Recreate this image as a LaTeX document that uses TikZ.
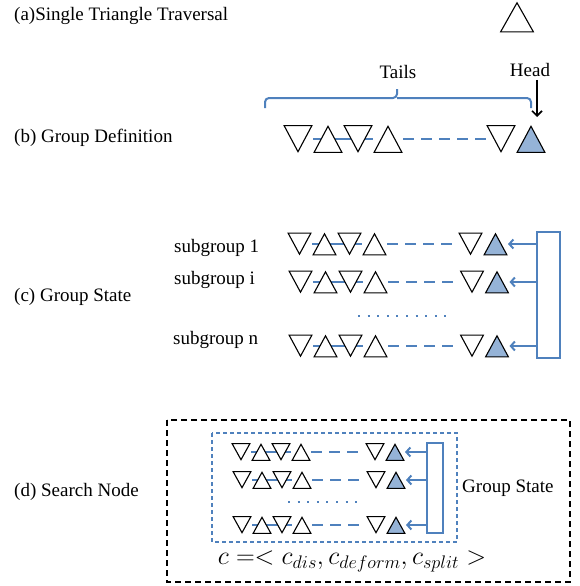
\RequirePackage{fix-cm}
\documentclass[tikz,border=0pt]{standalone}
\usepackage{fontspec}
\setmainfont{Liberation Serif}
\usetikzlibrary{arrows.meta}
\usetikzlibrary{positioning, backgrounds}

\definecolor{gsblue}{RGB}{79,129,189}
\definecolor{headblue}{RGB}{149,179,215}

\tikzset{
  lbl/.style={font=\fontsize{19}{22}\selectfont, inner sep=0pt},
  triline/.style={draw=black, line width=1.1pt, line join=miter},
  tri/.style={inner sep=0pt, outer sep=0pt},
  trup/.style={tri, path picture={\filldraw[triline, fill=#1]
      ([shift={(1.1pt,.6pt)}]path picture bounding box.south west) --
      ([shift={(-1.1pt,.6pt)}]path picture bounding box.south east) --
      ([yshift=-1.3pt]path picture bounding box.north) -- cycle;}},
  trup/.default=white,
  trdn/.style={tri, path picture={\filldraw[triline, fill=#1]
      ([shift={(1.1pt,-.6pt)}]path picture bounding box.north west) --
      ([shift={(-1.1pt,-.6pt)}]path picture bounding box.north east) --
      ([yshift=1.3pt]path picture bounding box.south) -- cycle;}},
  trdn/.default=white,
  big/.style={minimum width=30pt, minimum height=28pt},
  med/.style={minimum width=25pt, minimum height=23pt},
  small/.style={minimum width=20pt, minimum height=18pt},
  link/.style={draw=gsblue, line width=2pt},
  gap/.style={dash pattern=on 11pt off 7pt},
  gsbox/.style={draw=gsblue, line width=2pt, inner sep=0pt},
  feed/.style={link, -{Straight Barb[length=4pt,width=9pt]}},
}

% one subgroup: name, size, x of first tail, y, x of last tail
\newcommand{\grouprow}[5]{%
  \node[trdn,#2] (#1-1) at (#3,#4) {};
  \node[trup,#2,right=0pt of #1-1] (#1-2) {};
  \node[trdn,#2,right=0pt of #1-2] (#1-3) {};
  \node[trup,#2,right=0pt of #1-3] (#1-4) {};
  \node[trdn,#2] (#1-5) at (#5,#4) {};
  \node[trup=headblue,#2,right=0pt of #1-5] (#1-6) {};
  \begin{scope}[on background layer]
    \draw[link] (#1-1) -- (#1-4);
    \draw[link,gap] (#1-4) -- (#1-5);
    \draw[link] (#1-5) -- (#1-6);
  \end{scope}}

\begin{document}
\begin{tikzpicture}[x=1pt,y=-1pt]
\useasboundingbox (0,0) rectangle (579,586);
%% (a)
\node[lbl,anchor=west] (la) at (14,16) {(a)Single Triangle Traversal};
\node[trup,minimum width=35pt,minimum height=31pt] (single) at (517,17) {};
%% (b)
\node[lbl,anchor=west] (lb) at (14,138) {(b) Group Definition};
\grouprow{b}{big}{298}{139}{501}
\node[lbl] (tails) at (398,72) {Tails};
\node[lbl] (head) at (530,70) {Head};
\draw[link,rounded corners=4pt] (265,108) |- (397,98) -- (397,89)
  (397,98) -| (531,108);
\draw[black,line width=1.6pt,-{Straight Barb[length=5pt,width=10pt]}]
  ([xshift=7pt,yshift=-3pt]head.south) -- ([xshift=6pt,yshift=8pt]b-6.north);
%% (c)
\node[lbl,anchor=west] (lc) at (14,297) {(c) Group State};
\node[lbl,anchor=west] (sub1) at (174,248) {subgroup 1};
\node[lbl,anchor=west] (subi) at (174,280) {subgroup i};
\node[lbl,anchor=west] (subn) at (173,340) {subgroup n};
\grouprow{c1}{med}{299.5}{244}{470.5}
\grouprow{ci}{med}{300.5}{282}{472}
\grouprow{cn}{med}{300.5}{346}{472}
\draw[link,dash pattern=on 2pt off 7.6pt] (358,316) -- (446,316);
\node[gsbox,minimum width=23pt,minimum height=126pt] (cbox) at (548.5,295) {};
\draw[feed] (cbox.west |- c1-6) -- (c1-6.east);
\draw[feed] (cbox.west |- ci-6) -- (ci-6.east);
\draw[feed] (cbox.west |- cn-6) -- (cn-6.east);
%% (d)
\node[lbl,anchor=west] (ld) at (14,492) {(d) Search Node};
\draw[black,line width=2pt,dash pattern=on 6pt off 4pt] (167,420) rectangle (570,582);
\draw[gsblue,line width=1.5pt,dash pattern=on 4pt off 3pt] (212,433) rectangle (457,542);
\grouprow{d1}{small}{241}{452}{375}
\grouprow{d2}{small}{242}{480}{376}
\grouprow{dn}{small}{242}{525}{376}
\draw[link,dash pattern=on 2pt off 7.6pt] (288,502) -- (359,502);
\node[gsbox,minimum width=16pt,minimum height=90pt] (dbox) at (435,488) {};
\draw[feed] (dbox.west |- d1-6) -- (d1-6.east);
\draw[feed] (dbox.west |- d2-6) -- (d2-6.east);
\draw[feed] (dbox.west |- dn-6) -- (dn-6.east);
\node[lbl,anchor=west] (gstate) at (462,488) {Group State};
\node[font=\fontsize{26}{30}\selectfont] (cost) at (352,561)
  {$c =< c_{dis}, c_{deform}, c_{split} >$};
%
\end{tikzpicture}
\end{document}
